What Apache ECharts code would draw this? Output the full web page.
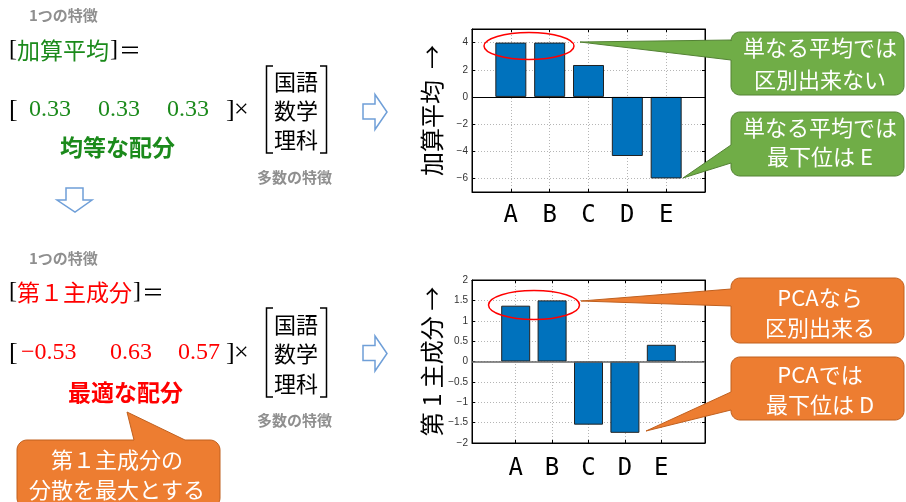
<!DOCTYPE html>
<html>
<head>
<meta charset="utf-8">
<script src="https://cdn.jsdelivr.net/npm/echarts@6/dist/echarts.min.js"></script>
<style>
  html, body { margin: 0; padding: 0; background: #fff; }
  #main { width: 906px; height: 502px; }
</style>
</head>
<body>
<div id="main"></div>
<script>
// ---- data ----
const students = ['A', 'B', 'C', 'D', 'E'];
const meanScores = [4, 4, 2.35, -4.35, -6];
const pc1Scores = [1.37, 1.5, -1.55, -1.75, 0.41];
const meanTicks = [-6, -4, -2, 0, 2, 4];
const pc1Ticks = [-2, -1.5, -1, -0.5, 0, 0.5, 1, 1.5, 2];
const meanWeights = ['0.33', '0.33', '0.33'];
const pc1Weights = ['\u22120.53', '0.63', '0.57'];
const subjects = ['国語', '数学', '理科'];

// ---- styles ----
const CJK = "'Noto Sans CJK JP', 'Noto Sans', sans-serif";
const SERIF = "'Liberation Serif', 'DejaVu Serif', serif";
const LATIN = "'Liberation Sans', 'DejaVu Sans', sans-serif";
const LETTER = "'DejaVu Sans Mono', 'Liberation Mono', monospace";
const GREEN_TXT = '#1b8a1b';
const RED_TXT = '#ff0000';
const GREY_TXT = '#8f8f8f';
const BAR_BLUE = '#0072bd';
const ARROW_BLUE = '#6f9fd8';
const CALL_GREEN = '#70ad47', CALL_GREEN_EDGE = '#548235';
const CALL_ORANGE = '#ed7d31', CALL_ORANGE_EDGE = '#c0601f';

const positions = students.map((s, i) => i + 1);
const minusSign = v => String(v).replace('-', '\u2212');
const gridLine = { show: true, lineStyle: { color: '#b5b5b5', type: [1, 2], width: 1 } };

function axesFor(gi, xr, yr, yTicks, title, labelMargin) {
  const x = [
    {
      gridIndex: gi, type: 'value', min: xr[0], max: xr[1], position: 'bottom',
      axisLine: { show: true, onZero: false, lineStyle: { color: '#000' } },
      axisTick: { show: true, inside: true, length: 3, customValues: positions, lineStyle: { color: '#000' } },
      axisLabel: {
        customValues: positions, formatter: v => students[Math.round(v) - 1] || '',
        fontFamily: LETTER, fontSize: 24, color: '#000', margin: labelMargin
      },
      splitLine: gridLine
    },
    {
      gridIndex: gi, type: 'value', min: xr[0], max: xr[1], position: 'top',
      axisLine: { show: true, onZero: false, lineStyle: { color: '#000' } },
      axisTick: { show: true, inside: true, length: 3, customValues: positions, lineStyle: { color: '#000' } },
      axisLabel: { show: false }, splitLine: { show: false }
    }
  ];
  const y = [
    {
      gridIndex: gi, type: 'value', min: yr[0], max: yr[1], position: 'left',
      axisLine: { show: true, onZero: false, lineStyle: { color: '#000' } },
      axisTick: { show: true, inside: true, length: 3, customValues: yTicks, lineStyle: { color: '#000' } },
      axisLabel: { customValues: yTicks, formatter: minusSign, fontFamily: LATIN, fontSize: 10, color: '#333', margin: 4 },
      splitLine: gridLine,
      name: title, nameLocation: 'middle', nameRotate: 90, nameGap: 28,
      nameTextStyle: { fontFamily: CJK, fontSize: 24, color: '#000' }
    },
    {
      gridIndex: gi, type: 'value', min: yr[0], max: yr[1], position: 'right',
      axisLine: { show: true, onZero: false, lineStyle: { color: '#000' } },
      axisTick: { show: true, inside: true, length: 3, customValues: yTicks, lineStyle: { color: '#000' } },
      axisLabel: { show: false }, splitLine: { show: false }
    }
  ];
  return { x, y };
}

const a1 = axesFor(0, [0, 6], [-7, 5], meanTicks, '加算平均  →', 12);
const a2 = axesFor(1, [-0.2, 6.2], [-2, 2], pc1Ticks, '第 1 主成分 →', 14);

function barSeries(gi, values, width, zeroColor, zeroWidth) {
  return {
    type: 'bar', xAxisIndex: gi * 2, yAxisIndex: gi * 2,
    data: students.map((s, i) => [positions[i], values[i]]),
    barWidth: width,
    itemStyle: { color: BAR_BLUE, borderColor: '#222', borderWidth: 1 },
    markLine: {
      silent: true, symbol: 'none', label: { show: false },
      lineStyle: { color: zeroColor, type: 'solid', width: zeroWidth },
      data: [{ yAxis: 0 }]
    },
    z: 3
  };
}

// ---- annotation helpers ----
function txt(x, y, text, size, color, o = {}) {
  return {
    type: 'text', x, y, z: 100,
    style: {
      text, fontSize: size, fill: color, fontFamily: o.font || CJK,
      fontWeight: o.weight || 'normal', align: o.align || 'left', verticalAlign: 'middle'
    }
  };
}
function arc(cx, cy, r, a0, a1) {
  const pts = [];
  for (let k = 0; k <= 8; k++) {
    const a = (a0 + (a1 - a0) * k / 8) * Math.PI / 180;
    pts.push([cx + r * Math.cos(a), cy + r * Math.sin(a)]);
  }
  return pts;
}
function bubble(points, fill, stroke) {
  return { type: 'polygon', z: 90, shape: { points }, style: { fill, stroke, lineWidth: 1 } };
}
function calloutLeft(x1, y1, x2, y2, r, bTop, bBot, tx, ty) {
  return [].concat(
    arc(x1 + r, y1 + r, r, 180, 270), arc(x2 - r, y1 + r, r, 270, 360),
    arc(x2 - r, y2 - r, r, 0, 90), arc(x1 + r, y2 - r, r, 90, 180),
    [[x1, bBot], [tx, ty], [x1, bTop]]
  );
}
function calloutTop(x1, y1, x2, y2, r, bL, bR, tx, ty) {
  return [].concat(
    arc(x1 + r, y1 + r, r, 180, 270), [[bL, y1], [tx, ty], [bR, y1]],
    arc(x2 - r, y1 + r, r, 270, 360), arc(x2 - r, y2 - r, r, 0, 90), arc(x1 + r, y2 - r, r, 90, 180)
  );
}
function rightArrow(dx, dy) {
  const p = [[363, 104], [375, 104], [375, 94.5], [387, 112], [375, 129.5], [375, 119], [363, 119]];
  return { type: 'polygon', z: 90, shape: { points: p.map(q => [q[0] + dx, q[1] + dy]) },
    style: { fill: '#fff', stroke: ARROW_BLUE, lineWidth: 1.5 } };
}
function downArrow() {
  const p = [[66, 188], [83, 188], [83, 200], [92, 200], [75, 212], [57, 200], [66, 200]];
  return { type: 'polygon', z: 90, shape: { points: p }, style: { fill: '#fff', stroke: ARROW_BLUE, lineWidth: 1.5 } };
}
function matrixBracket(top, bottom) {
  return [
    { type: 'polyline', z: 90, shape: { points: [[273, top], [266.5, top], [266.5, bottom], [273, bottom]] },
      style: { stroke: '#000', lineWidth: 1.5, fill: null } },
    { type: 'polyline', z: 90, shape: { points: [[320, top], [326.5, top], [326.5, bottom], [320, bottom]] },
      style: { stroke: '#000', lineWidth: 1.5, fill: null } }
  ];
}
function equation(yTitle, yRow, titleText, titleColor, weights, wx, caption, capX, yCap, mTop, mBot, subjYs, yNote, yHead) {
  const g = [
    txt(29, yHead, '1つの特徴', 15, GREY_TXT, { weight: 'bold' }),
    txt(9, yTitle, '[', 24, '#000', { font: SERIF }),
    txt(17, yTitle, titleText, 23, titleColor),
    txt(titleText.length * 23 + 18, yTitle, ']', 24, '#000', { font: SERIF }),
    txt(titleText.length * 23 + 27, yTitle, '＝', 22, '#000'),
    txt(9, yRow, '[', 26, '#000', { font: SERIF }),
    txt(226, yRow, ']', 26, '#000', { font: SERIF }),
    txt(234, yRow, '×', 26, '#000', { font: SERIF }),
    txt(capX, yCap, caption, 23, titleColor, { weight: 'bold' }),
    txt(257, yNote, '多数の特徴', 15, GREY_TXT, { weight: 'bold' })
  ];
  weights.forEach((w, i) => g.push(txt(wx[i], yRow, w, 24, titleColor, { font: SERIF })));
  subjects.forEach((s, i) => g.push(txt(274, subjYs[i], s, 22, '#000')));
  return g.concat(matrixBracket(mTop, mBot));
}

const graphics = []
  .concat(equation(50, 110, '加算平均', GREEN_TXT, meanWeights, [29, 98, 167], '均等な配分', 60, 147, 66, 153, [82, 111, 140], 177, 15))
  .concat(equation(292, 353, '第１主成分', RED_TXT, pc1Weights, [21, 110, 178], '最適な配分', 68, 392, 308, 397, [325, 354, 384], 420, 258))
  .concat([
    rightArrow(0, 0), rightArrow(0, 241.5), downArrow(),
    { type: 'ellipse', z: 95, shape: { cx: 529, cy: 46, rx: 45, ry: 13.5 }, style: { fill: null, stroke: '#ff0000', lineWidth: 1.5 } },
    { type: 'ellipse', z: 95, shape: { cx: 534, cy: 305, rx: 45.5, ry: 14.5 }, style: { fill: null, stroke: '#ff0000', lineWidth: 1.5 } },
    bubble(calloutLeft(731, 32, 904, 95, 9, 40, 60, 580, 42), CALL_GREEN, CALL_GREEN_EDGE),
    txt(820, 48, '単なる平均では', 22, '#fff', { align: 'center' }),
    txt(820, 80, '区別出来ない', 22, '#fff', { align: 'center' }),
    bubble(calloutLeft(731, 112, 904, 176, 9, 145, 163, 683, 178), CALL_GREEN, CALL_GREEN_EDGE),
    txt(820, 128, '単なる平均では', 22, '#fff', { align: 'center' }),
    txt(820, 157, '最下位は E', 22, '#fff', { align: 'center' }),
    bubble(calloutLeft(731, 278, 904, 343, 9, 289, 306, 581, 301), CALL_ORANGE, CALL_ORANGE_EDGE),
    txt(820, 298, 'PCAなら', 22, '#fff', { align: 'center' }),
    txt(820, 328, '区別出来る', 22, '#fff', { align: 'center' }),
    bubble(calloutLeft(731, 357, 904, 420, 9, 392, 410, 646, 431), CALL_ORANGE, CALL_ORANGE_EDGE),
    txt(820, 375, 'PCAでは', 22, '#fff', { align: 'center' }),
    txt(820, 405, '最下位は D', 22, '#fff', { align: 'center' }),
    bubble(calloutTop(17, 440, 220, 508, 10, 134, 185, 127, 412), CALL_ORANGE, CALL_ORANGE_EDGE),
    txt(117, 460, '第１主成分の', 22, '#fff', { align: 'center' }),
    txt(117, 490, '分散を最大とする', 22, '#fff', { align: 'center' })
  ]);

const chart = echarts.init(document.getElementById('main'), null, { renderer: 'canvas' });
chart.setOption({
  backgroundColor: '#fff',
  animation: false,
  grid: [
    { left: 472, top: 29, width: 233, height: 163, show: true, borderColor: '#000', borderWidth: 1, backgroundColor: '#fff' },
    { left: 472, top: 280, width: 233, height: 163, show: true, borderColor: '#000', borderWidth: 1, backgroundColor: '#fff' }
  ],
  xAxis: a1.x.concat(a2.x),
  yAxis: a1.y.concat(a2.y),
  series: [barSeries(0, meanScores, 31, '#000', 1), barSeries(1, pc1Scores, 29, '#666', 1.5)],
  graphic: { elements: graphics }
});
</script>
</body>
</html>
